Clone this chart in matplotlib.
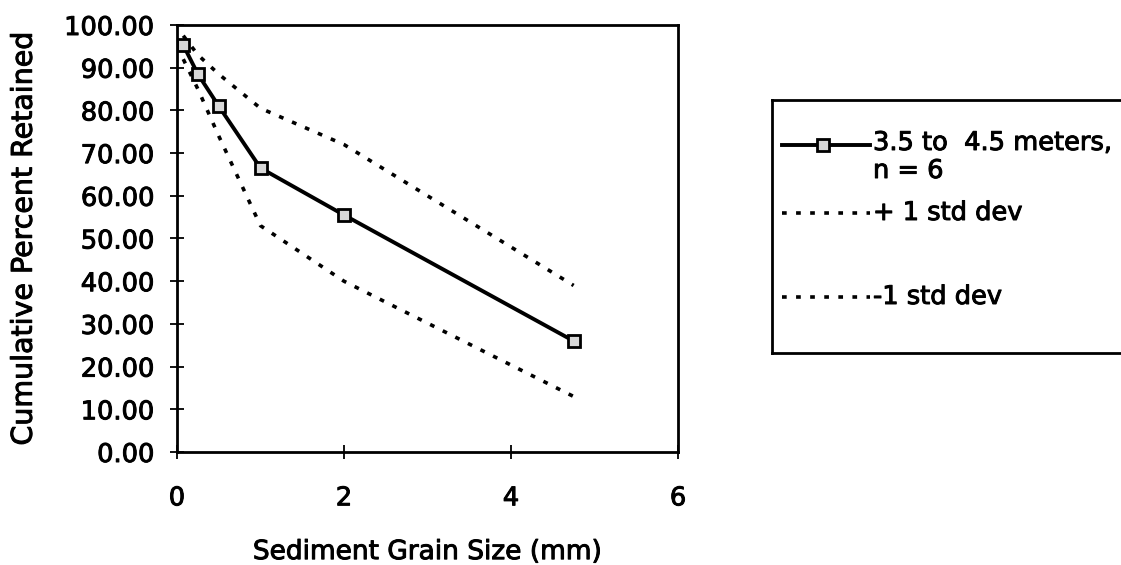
import matplotlib

matplotlib.use("Agg")
import matplotlib.pyplot as plt
import matplotlib.patheffects as pe
from matplotlib.lines import Line2D

# sieve sizes (mm) and cumulative percent retained
grain_size = [0.075, 0.25, 0.5, 1.0, 2.0, 4.75]
mean_retained = [95.3, 88.5, 81.0, 66.5, 55.5, 26.0]
plus_one_sd = [97.5, 93.0, 88.5, 80.5, 72.0, 39.0]
minus_one_sd = [92.0, 85.0, 74.0, 53.0, 40.0, 13.0]

series_label = "3.5 to  4.5 meters,\nn = 6"
plus_label = "+ 1 std dev"
minus_label = "-1 std dev"

plt.rcParams["font.family"] = ["DejaVu Sans"]
plt.rcParams["font.size"] = 18.5

# scanned print looks heavier than plain DejaVu
heavy = [pe.withStroke(linewidth=0.7, foreground="black")]
dotted = (0, (1.3, 2.6))

fig = plt.figure(figsize=(11.21, 5.65), dpi=100)
ax = fig.add_axes([177 / 1121, 1 - 452 / 565, (678 - 177) / 1121, (452 - 25) / 565])

ax.plot(grain_size, plus_one_sd, color="black", lw=2.6, linestyle=dotted)
ax.plot(grain_size, minus_one_sd, color="black", lw=2.6, linestyle=dotted)
ax.plot(grain_size, mean_retained, color="black", lw=2.8, marker="s", markersize=9,
        markerfacecolor="#d8d8d8", markeredgecolor="black", markeredgewidth=2)

ax.set_xlim(0, 6)
ax.set_ylim(0, 100)
ax.set_xticks([0, 2, 4, 6])
ax.set_yticks(range(0, 101, 10))
ax.set_yticklabels([f"{v:.2f}" for v in range(0, 101, 10)])
ax.tick_params(direction="inout", length=10, width=1.3)
ax.tick_params(axis="x", pad=19)
ax.tick_params(axis="y", pad=11)
for label in ax.get_xticklabels() + ax.get_yticklabels():
    label.set_path_effects(heavy)
for spine in ax.spines.values():
    spine.set_linewidth(2)
ax.set_xlabel("Sediment Grain Size (mm)", fontsize=19, labelpad=20, path_effects=heavy)
ax.set_ylabel("Cumulative Percent Retained", fontsize=20.5, labelpad=19, path_effects=heavy)

# legend box drawn as its own frame, partly cut by the figure edge
leg = fig.add_axes([772 / 1121, 1 - 353 / 565, 360 / 1121, (353 - 100) / 565])
leg.set_xlim(0, 360)
leg.set_ylim(253, 0)
leg.set_xticks([])
leg.set_yticks([])
for spine in leg.spines.values():
    spine.set_linewidth(2)
leg.add_line(Line2D([10, 98], [45, 45], color="black", lw=2.8))
leg.add_line(Line2D([51], [45], marker="s", markersize=9, markerfacecolor="#d8d8d8",
                    markeredgecolor="black", markeredgewidth=2))
leg.add_line(Line2D([10, 98], [113, 113], color="black", lw=2.6, linestyle=dotted))
leg.add_line(Line2D([10, 98], [197, 197], color="black", lw=2.6, linestyle=dotted))
leg.text(101, 30, series_label, va="top", ha="left", linespacing=1.1, path_effects=heavy)
leg.text(101, 113, plus_label, va="center", ha="left", path_effects=heavy)
leg.text(101, 197, minus_label, va="center", ha="left", path_effects=heavy)

fig.savefig("out.png", dpi=100)
